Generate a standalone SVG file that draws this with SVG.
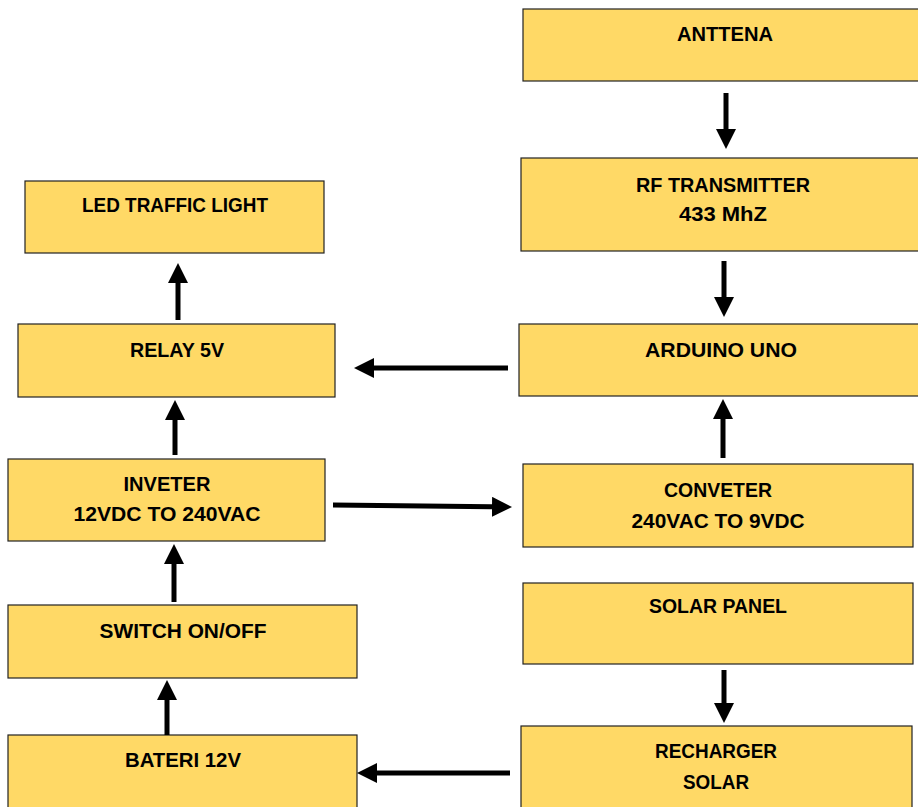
<svg xmlns="http://www.w3.org/2000/svg" width="918" height="807" viewBox="0 0 918 807">
<defs>
<style>
.box{fill:#FFD966;stroke:#222;stroke-width:1.2}
.t{font-family:"Liberation Sans",Arial,sans-serif;font-weight:bold;font-size:20.5px;fill:#000;text-anchor:middle}
.c{stroke:#000;stroke-width:5;fill:none}
</style>
<marker id="ah" markerUnits="userSpaceOnUse" markerWidth="20" markerHeight="20" viewBox="0 0 20 20" refX="0" refY="10" orient="auto">
<path d="M0,0 L20,10 L0,20 Z" fill="#000"/>
</marker>
</defs>
<rect width="918" height="807" fill="#fff"/>
<g id="antena"><rect class="box" x="523" y="9" width="400" height="72"/><text class="t" x="725" y="41" textLength="96" lengthAdjust="spacingAndGlyphs">ANTTENA</text></g>
<g id="rf"><rect class="box" x="521" y="158" width="402" height="93"/><text class="t" x="723" y="192" textLength="174" lengthAdjust="spacingAndGlyphs">RF TRANSMITTER</text><text class="t" x="723" y="221" textLength="88" lengthAdjust="spacingAndGlyphs">433 MhZ</text></g>
<g id="arduino"><rect class="box" x="519" y="324" width="404" height="72"/><text class="t" x="721" y="357" textLength="152" lengthAdjust="spacingAndGlyphs">ARDUINO UNO</text></g>
<g id="conveter"><rect class="box" x="523" y="464" width="390" height="83"/><text class="t" x="718" y="497" textLength="108" lengthAdjust="spacingAndGlyphs">CONVETER</text><text class="t" x="718" y="528" textLength="173" lengthAdjust="spacingAndGlyphs">240VAC TO 9VDC</text></g>
<g id="solar"><rect class="box" x="523" y="583" width="390" height="81"/><text class="t" x="718" y="613" textLength="138" lengthAdjust="spacingAndGlyphs">SOLAR PANEL</text></g>
<g id="recharger"><rect class="box" x="521" y="726" width="391" height="90"/><text class="t" x="716" y="758" textLength="122" lengthAdjust="spacingAndGlyphs">RECHARGER</text><text class="t" x="716" y="789" textLength="66" lengthAdjust="spacingAndGlyphs">SOLAR</text></g>
<g id="led"><rect class="box" x="25" y="181" width="299" height="72"/><text class="t" x="175" y="212" textLength="186" lengthAdjust="spacingAndGlyphs">LED TRAFFIC LIGHT</text></g>
<g id="relay"><rect class="box" x="18" y="324" width="317" height="73"/><text class="t" x="177" y="357" textLength="94" lengthAdjust="spacingAndGlyphs">RELAY 5V</text></g>
<g id="inveter"><rect class="box" x="8" y="459" width="317" height="82"/><text class="t" x="167" y="491" textLength="87" lengthAdjust="spacingAndGlyphs">INVETER</text><text class="t" x="167" y="521" textLength="187" lengthAdjust="spacingAndGlyphs">12VDC TO 240VAC</text></g>
<g id="switch"><rect class="box" x="8" y="605" width="349" height="73"/><text class="t" x="183" y="638" textLength="167" lengthAdjust="spacingAndGlyphs">SWITCH ON/OFF</text></g>
<g id="bateri"><rect class="box" x="8" y="735" width="349" height="80"/><text class="t" x="183" y="767" textLength="116" lengthAdjust="spacingAndGlyphs">BATERI 12V</text></g>
<g id="connectors">
<line class="c" x1="726" y1="93" x2="726" y2="129" marker-end="url(#ah)"/>
<line class="c" x1="724" y1="261" x2="724" y2="297" marker-end="url(#ah)"/>
<line class="c" x1="723" y1="458" x2="723" y2="419" marker-end="url(#ah)"/>
<line class="c" x1="724" y1="670" x2="724" y2="703" marker-end="url(#ah)"/>
<line class="c" x1="510" y1="773" x2="377" y2="773" marker-end="url(#ah)"/>
<line class="c" x1="167" y1="735" x2="167" y2="700" marker-end="url(#ah)"/>
<line class="c" x1="174" y1="602" x2="174" y2="564" marker-end="url(#ah)"/>
<line class="c" x1="175" y1="455" x2="175" y2="420" marker-end="url(#ah)"/>
<line class="c" x1="178" y1="320" x2="178" y2="283" marker-end="url(#ah)"/>
<line class="c" x1="508" y1="368" x2="374" y2="368" marker-end="url(#ah)"/>
<line class="c" x1="333" y1="505" x2="492" y2="506.8" marker-end="url(#ah)"/>
</g>
</svg>
